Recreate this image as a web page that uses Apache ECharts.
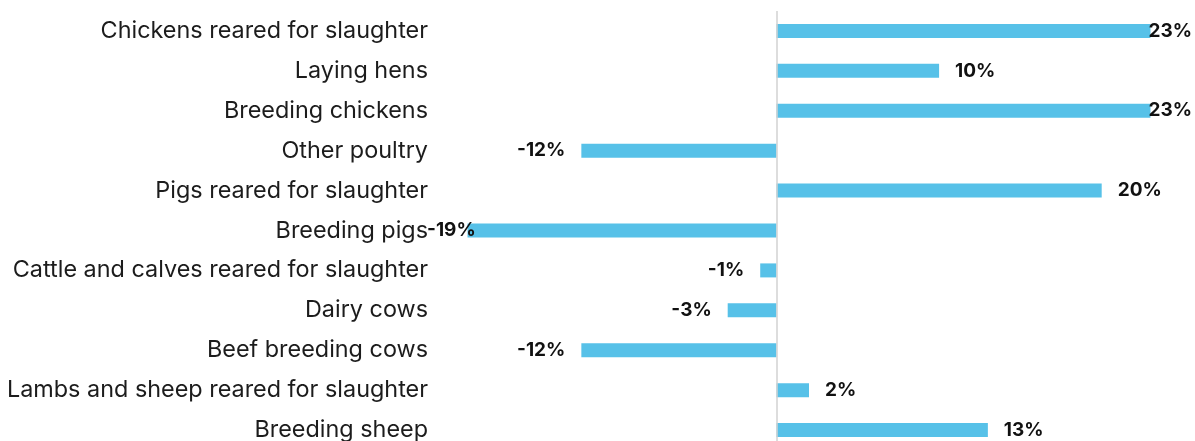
<!DOCTYPE html>
<html>
<head>
<meta charset="utf-8">
<script src="https://cdn.jsdelivr.net/npm/echarts@6/dist/echarts.min.js"></script>
<style>
  html, body { margin: 0; padding: 0; background: #ffffff; overflow: hidden; }
  /* the last row runs a little past the bottom of the 441px view */
  #chart { width: 1195px; height: 450px; }
</style>
</head>
<body>
<div id="chart"></div>
<script>
// Change in livestock numbers by category (%)
const categories = [
  'Chickens reared for slaughter',
  'Laying hens',
  'Breeding chickens',
  'Other poultry',
  'Pigs reared for slaughter',
  'Breeding pigs',
  'Cattle and calves reared for slaughter',
  'Dairy cows',
  'Beef breeding cows',
  'Lambs and sheep reared for slaughter',
  'Breeding sheep'
];
const changes = [23, 10, 23, -12, 20, -19, -1, -3, -12, 2, 13];

const CHART_W = 1195;
const LABEL_MIN_X = 427;
const BAR = '#57C1E8';
const FONT = 'Inter, "Noto Sans", sans-serif';

const chart = echarts.init(document.getElementById('chart'), null, { renderer: 'canvas' });

chart.setOption({
  animation: false,
  backgroundColor: '#ffffff',
  grid: { left: 435, right: 12, top: 11, bottom: 0, containLabel: false },
  xAxis: {
    type: 'value',
    min: -21,
    max: 25,
    show: false
  },
  yAxis: {
    type: 'category',
    data: categories,
    inverse: true,
    axisLine: { show: false },
    axisTick: { show: false },
    splitLine: { show: false },
    axisLabel: {
      margin: 7,
      color: '#1c1c1c',
      fontFamily: FONT,
      fontSize: 23.4
    }
  },
  series: [{
    type: 'bar',
    data: changes.map(v => ({
      value: v,
      label: { position: v < 0 ? 'left' : 'right' }
    })),
    barWidth: 14,
    itemStyle: { color: BAR },
    label: {
      show: true,
      distance: 16,
      color: '#111111',
      fontFamily: FONT,
      fontWeight: 'bold',
      fontSize: 19,
      formatter: p => p.value + '%'
    },
    // keep value labels within the plotting band
    labelLayout: p => {
      const r = p.labelRect;
      let x = null;
      if (r.x + r.width > CHART_W - 3) x = CHART_W - 3 - r.width;
      else if (r.x < LABEL_MIN_X) x = LABEL_MIN_X;
      if (x === null) return {};
      return {
        x: x,
        y: r.y + r.height / 2,
        align: 'left',
        verticalAlign: 'middle'
      };
    },
    markLine: {
      silent: true,
      symbol: 'none',
      label: { show: false },
      lineStyle: { color: '#d2d2d2', width: 1.5, type: 'solid' },
      data: [{ xAxis: 0 }]
    }
  }]
});
</script>
</body>
</html>
